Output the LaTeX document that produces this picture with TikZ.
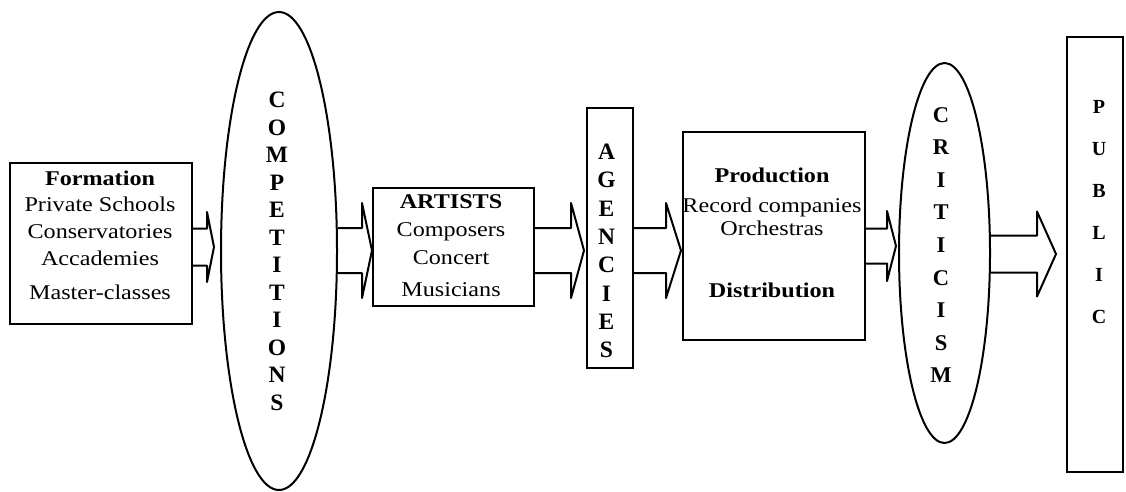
\documentclass[tikz,border=0pt]{standalone}
\usepackage{fontspec}
\setmainfont{Liberation Serif}
\newfontfamily\widefont[FakeStretch=1.15]{Liberation Serif}
\usetikzlibrary{shapes.geometric,calc}

\tikzset{
  frame/.style={draw, line width=2pt, rectangle, inner sep=0pt},
  oval/.style={draw, line width=2pt, ellipse, inner sep=0pt},
  bodytext/.style={align=center, inner sep=0pt,
    font=\widefont\fontsize{21}{#1}\selectfont},
  stacked/.style 2 args={align=center, inner sep=0pt,
    font=\bfseries\fontsize{#1}{#2}\selectfont},
  arrowline/.style={draw, line width=2pt, line join=round},
}

% open block arrow from the east side of #1 towards the west side of #2
% #3 mid height, #4 gap before #2, #5 head length, #6 half shaft, #7 half head
\newcommand\flowarrow[7]{%
  \draw[arrowline] let \p1=(#1.east), \p2=(#2.west) in
    (\x1,#3-#6) -- (\x2-#4pt-#5pt,#3-#6) -- (\x2-#4pt-#5pt,#3-#7)
    -- (\x2-#4pt,#3) -- (\x2-#4pt-#5pt,#3+#7) -- (\x2-#4pt-#5pt,#3+#6)
    -- (\x1,#3+#6);}

\begin{document}
\begin{tikzpicture}[x=1pt,y=-1pt]
\useasboundingbox (0,0) rectangle (1126,491);

% stages
\node[frame, minimum width=182, minimum height=161] (form) at (101,243.5) {};
\node[bodytext=26.7] (formtxt) at (100,235) {\textbf{Formation}\\Private Schools\\Conservatories\\Accademies\\[7pt]Master-classes};

\node[oval, minimum width=116, minimum height=478] (comp) at (279,251) {};
\node[stacked={23.5}{27.5}] (comptxt) at (277,251.5) {C\\O\\M\\P\\E\\T\\I\\T\\I\\O\\N\\S};

\node[frame, minimum width=161, minimum height=118] (art) at (453.5,247) {};
\node[bodytext=28] (arttxt) at (451,246) {\textbf{ARTISTS}\\Composers\\Concert\\[4pt]Musicians};

\node[frame, minimum width=46, minimum height=260] (agen) at (610,238) {};
\node[stacked={23.5}{28.3}] (agentxt) at (606.5,251) {A\\G\\E\\N\\C\\I\\E\\S};

\node[frame, minimum width=182, minimum height=208] (prod) at (774,236) {};
\node[bodytext=26] (prodtxt) at (772,233) {\textbf{Production}\\[4pt]Record companies\\[-3pt]Orchestras\\[36pt]\textbf{Distribution}};

\node[oval, minimum width=91, minimum height=380] (crit) at (944.5,253) {};
\node[stacked={22.5}{32.6}] (crittxt) at (941,245) {C\\R\\I\\T\\I\\C\\I\\S\\M};

\node[frame, minimum width=56, minimum height=435] (pub) at (1095,254.5) {};
\node[stacked={20}{42}] (pubtxt) at (1099,212) {P\\U\\B\\L\\I\\C};

% flow between stages
\flowarrow{form}{comp}{247}{6}{7}{18.5}{35}
\flowarrow{comp}{art}{250.5}{0}{10}{22.5}{47.5}
\flowarrow{art}{agen}{250.5}{2}{13}{22.5}{47.5}
\flowarrow{agen}{prod}{250.5}{1}{15}{22.5}{47.5}
\flowarrow{prod}{crit}{246}{2}{9}{17.5}{35}
\flowarrow{crit}{pub}{254}{10}{19}{18.5}{42.5}
\end{tikzpicture}
\end{document}
